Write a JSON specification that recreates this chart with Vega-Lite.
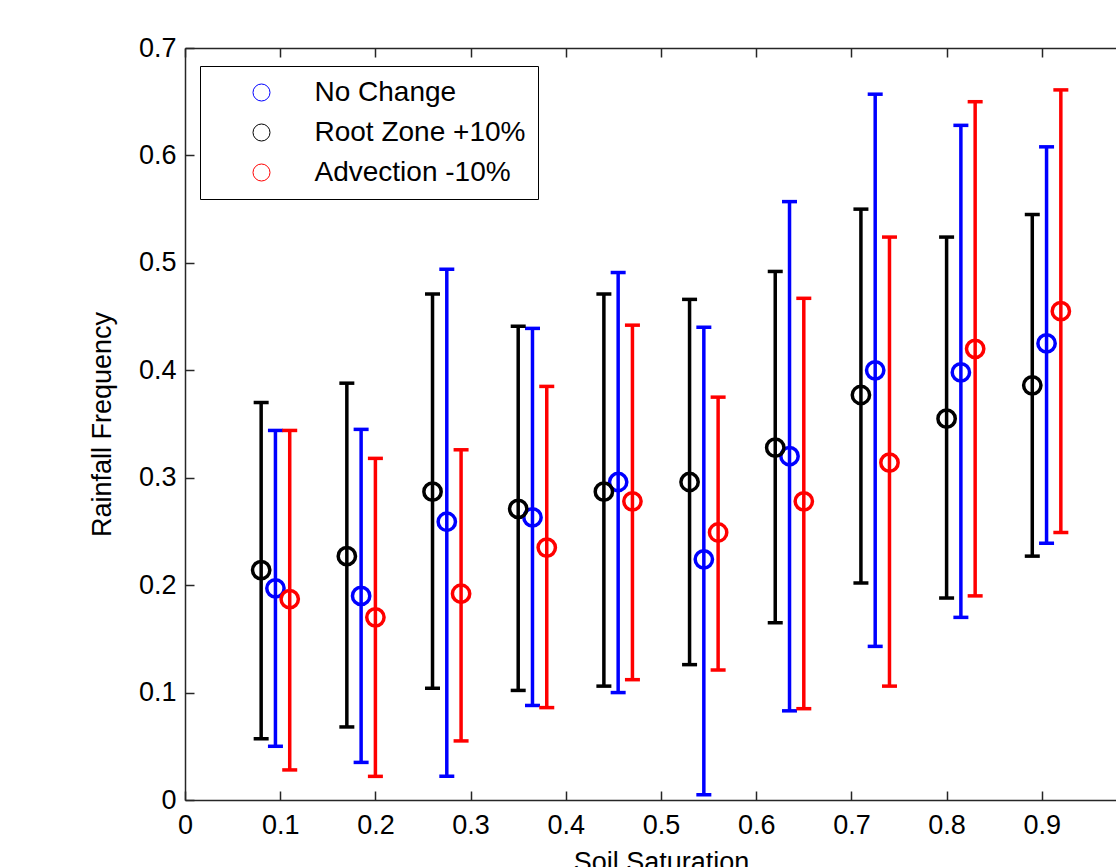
{
  "$schema": "https://vega.github.io/schema/vega-lite/v6.json",
  "width": 952,
  "height": 752,
  "autosize": {"type": "none"},
  "padding": {"left": 185, "top": 48, "right": -21, "bottom": 67},
  "background": "white",
  "config": {
    "view": {"stroke": null},
    "font": "Liberation Sans",
    "axis": {
      "grid": false,
      "domainColor": "#262626",
      "domainWidth": 1.5,
      "tickColor": "#262626",
      "tickWidth": 1.5,
      "tickSize": -9,
      "labelColor": "black",
      "labelFont": "Liberation Sans",
      "labelFontSize": 27,
      "labelFlush": false,
      "labelOverlap": false,
      "titleFont": "Liberation Sans",
      "titleFontSize": 27,
      "titleFontWeight": "normal",
      "titleColor": "black"
    }
  },
  "data": {
    "values": [
      {"series": "No Change", "x": 0.095, "y": 0.197, "lo": 0.050, "hi": 0.344},
      {"series": "No Change", "x": 0.185, "y": 0.190, "lo": 0.035, "hi": 0.345},
      {"series": "No Change", "x": 0.275, "y": 0.259, "lo": 0.022, "hi": 0.494},
      {"series": "No Change", "x": 0.365, "y": 0.263, "lo": 0.088, "hi": 0.439},
      {"series": "No Change", "x": 0.455, "y": 0.296, "lo": 0.100, "hi": 0.491},
      {"series": "No Change", "x": 0.545, "y": 0.224, "lo": 0.005, "hi": 0.440},
      {"series": "No Change", "x": 0.635, "y": 0.320, "lo": 0.083, "hi": 0.557},
      {"series": "No Change", "x": 0.725, "y": 0.400, "lo": 0.143, "hi": 0.657},
      {"series": "No Change", "x": 0.815, "y": 0.398, "lo": 0.170, "hi": 0.628},
      {"series": "No Change", "x": 0.905, "y": 0.425, "lo": 0.239, "hi": 0.608},
      {"series": "Root Zone +10%", "x": 0.08, "y": 0.214, "lo": 0.057, "hi": 0.370},
      {"series": "Root Zone +10%", "x": 0.17, "y": 0.227, "lo": 0.068, "hi": 0.388},
      {"series": "Root Zone +10%", "x": 0.26, "y": 0.287, "lo": 0.104, "hi": 0.471},
      {"series": "Root Zone +10%", "x": 0.35, "y": 0.271, "lo": 0.102, "hi": 0.441},
      {"series": "Root Zone +10%", "x": 0.44, "y": 0.287, "lo": 0.106, "hi": 0.471},
      {"series": "Root Zone +10%", "x": 0.53, "y": 0.296, "lo": 0.126, "hi": 0.466},
      {"series": "Root Zone +10%", "x": 0.62, "y": 0.328, "lo": 0.165, "hi": 0.492},
      {"series": "Root Zone +10%", "x": 0.71, "y": 0.377, "lo": 0.202, "hi": 0.550},
      {"series": "Root Zone +10%", "x": 0.80, "y": 0.355, "lo": 0.188, "hi": 0.524},
      {"series": "Root Zone +10%", "x": 0.89, "y": 0.386, "lo": 0.227, "hi": 0.545},
      {"series": "Advection -10%", "x": 0.11, "y": 0.187, "lo": 0.028, "hi": 0.344},
      {"series": "Advection -10%", "x": 0.20, "y": 0.170, "lo": 0.022, "hi": 0.318},
      {"series": "Advection -10%", "x": 0.29, "y": 0.192, "lo": 0.055, "hi": 0.326},
      {"series": "Advection -10%", "x": 0.38, "y": 0.235, "lo": 0.086, "hi": 0.385},
      {"series": "Advection -10%", "x": 0.47, "y": 0.278, "lo": 0.112, "hi": 0.442},
      {"series": "Advection -10%", "x": 0.56, "y": 0.249, "lo": 0.121, "hi": 0.375},
      {"series": "Advection -10%", "x": 0.65, "y": 0.278, "lo": 0.085, "hi": 0.467},
      {"series": "Advection -10%", "x": 0.74, "y": 0.314, "lo": 0.106, "hi": 0.524},
      {"series": "Advection -10%", "x": 0.83, "y": 0.420, "lo": 0.190, "hi": 0.650},
      {"series": "Advection -10%", "x": 0.92, "y": 0.455, "lo": 0.249, "hi": 0.661}
    ]
  },
  "resolve": {"axis": {"x": "independent", "y": "independent"}, "legend": {"color": "independent"}},
  "layer": [
    {
      "mark": {"type": "rule", "strokeWidth": 3.5},
      "encoding": {
        "x": {"field": "x", "type": "quantitative", "scale": {"domain": [0, 1], "nice": false, "zero": false},
              "axis": {"orient": "bottom", "values": [0, 0.1, 0.2, 0.3, 0.4, 0.5, 0.6, 0.7, 0.8, 0.9], "format": "~g", "labelPadding": 21, "title": "Soil Saturation", "titlePadding": 11}},
        "y": {"field": "lo", "type": "quantitative", "scale": {"domain": [0, 0.7], "nice": false, "zero": false},
              "axis": {"orient": "left", "values": [0, 0.1, 0.2, 0.3, 0.4, 0.5, 0.6, 0.7], "format": "~g", "labelPadding": 18, "title": "Rainfall Frequency", "titlePadding": 22}},
        "y2": {"field": "hi"},
        "color": {"field": "series", "type": "nominal", "scale": {"domain": ["No Change", "Root Zone +10%", "Advection -10%"], "range": ["#0000ff", "#000000", "#ff0000"]}, "legend": null}
      }
    },
    {
      "mark": {"type": "tick", "orient": "horizontal", "size": 15, "thickness": 3.5, "opacity": 1},
      "encoding": {
        "x": {"field": "x", "type": "quantitative", "axis": null},
        "y": {"field": "lo", "type": "quantitative", "axis": null},
        "color": {"field": "series", "type": "nominal", "legend": null}
      }
    },
    {
      "mark": {"type": "tick", "orient": "horizontal", "size": 15, "thickness": 3.5, "opacity": 1},
      "encoding": {
        "x": {"field": "x", "type": "quantitative", "axis": null},
        "y": {"field": "hi", "type": "quantitative", "axis": null},
        "color": {"field": "series", "type": "nominal", "legend": null}
      }
    },
    {
      "mark": {"type": "point", "shape": "circle", "filled": false, "size": 300, "strokeWidth": 3.5, "opacity": 1},
      "encoding": {
        "x": {"field": "x", "type": "quantitative",
              "axis": {"orient": "top", "values": [0, 0.1, 0.2, 0.3, 0.4, 0.5, 0.6, 0.7, 0.8, 0.9, 1], "labels": false, "title": null}},
        "y": {"field": "y", "type": "quantitative", "axis": null},
        "color": {"field": "series", "type": "nominal",
                  "legend": {"orient": "none", "legendX": 15, "legendY": 18, "title": null,
                             "strokeColor": "black", "fillColor": "white", "padding": 12.5,
                             "symbolType": "circle", "symbolSize": 289, "symbolStrokeWidth": 1, "symbolFillColor": "transparent",
                             "symbolOffset": 35, "labelOffset": 39, "rowPadding": 12,
                             "labelFont": "Liberation Sans", "labelFontSize": 28, "labelColor": "black", "labelLimit": 400}}
      }
    }
  ]
}
